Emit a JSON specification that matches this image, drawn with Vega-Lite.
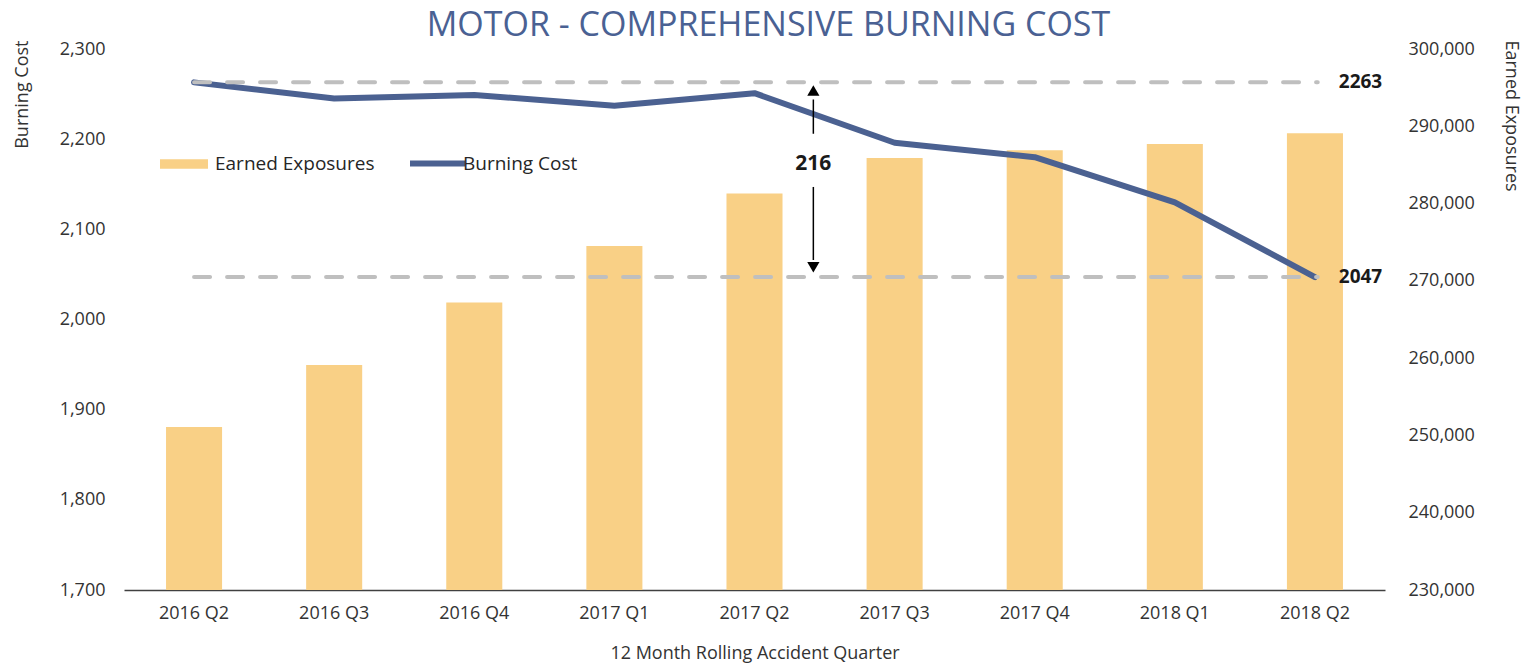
{
  "$schema": "https://vega.github.io/schema/vega-lite/v6.json",
  "width": 1261,
  "height": 541,
  "autosize": {"type": "none"},
  "padding": {"left": 124, "top": 49, "right": 141, "bottom": 79},
  "background": "white",
  "title": {"text": "MOTOR - COMPREHENSIVE BURNING COST", "font": "Open Sans", "fontSize": 34, "fontWeight": "normal", "color": "#4A6193", "anchor": "middle", "dx": 14, "offset": -3},
  "config": {
    "view": {"stroke": null},
    "font": "Open Sans",
    "axis": {"grid": false, "ticks": false, "domain": false, "labelFont": "Open Sans", "labelFontSize": 18, "labelColor": "#333333", "titleFont": "Open Sans", "titleFontSize": 18, "titleFontWeight": "normal", "titleColor": "#333333"},
    "legend": {"labelFont": "Open Sans", "labelFontSize": 19, "labelColor": "#262626", "padding": 0}
  },
  "datasets": {
    "main": [
      {"quarter": "2016 Q2", "burning_cost": 2263, "exposures": 251100},
      {"quarter": "2016 Q3", "burning_cost": 2245, "exposures": 259100},
      {"quarter": "2016 Q4", "burning_cost": 2249, "exposures": 267200},
      {"quarter": "2017 Q1", "burning_cost": 2237, "exposures": 274500},
      {"quarter": "2017 Q2", "burning_cost": 2251, "exposures": 281300},
      {"quarter": "2017 Q3", "burning_cost": 2196, "exposures": 285900},
      {"quarter": "2017 Q4", "burning_cost": 2180, "exposures": 286900},
      {"quarter": "2018 Q1", "burning_cost": 2130, "exposures": 287700},
      {"quarter": "2018 Q2", "burning_cost": 2047, "exposures": 289100}
    ],
    "refs": [
      {"value": 2263, "label": "2263"},
      {"value": 2047, "label": "2047"}
    ]
  },
  "layer": [
    {
      "data": {"name": "main"},
      "mark": {"type": "bar", "clip": true},
      "encoding": {
        "x": {"field": "quarter", "type": "nominal", "sort": null,
              "scale": {"paddingInner": 0.6, "paddingOuter": 0.3},
              "axis": {"orient": "bottom", "title": "12 Month Rolling Accident Quarter", "labelAngle": 0, "labelPadding": 14, "titlePadding": 22, "domain": true, "domainColor": "#404040", "domainWidth": 1.5}},
        "y": {"field": "exposures", "type": "quantitative",
              "scale": {"domain": [230000, 300000], "nice": false, "zero": false},
              "axis": {"orient": "right", "title": "Earned Exposures", "format": ",.0f", "values": [230000, 240000, 250000, 260000, 270000, 280000, 290000, 300000], "labelPadding": 23, "titleAngle": 90, "titleAlign": "left", "titleBaseline": "middle", "titleX": 125, "titleY": -9}},
        "fill": {"datum": "Earned Exposures", "type": "nominal",
                 "scale": {"range": ["#F9D086"]},
                 "legend": {"orient": "none", "legendX": 36, "legendY": 91, "title": null, "symbolType": "M-1,-0.2H1V0.2H-1Z", "symbolSize": 2304, "symbolStrokeWidth": 0, "labelOffset": 7}}
      }
    },
    {
      "data": {"name": "main"},
      "mark": {"type": "line", "strokeWidth": 6, "strokeCap": "round", "strokeJoin": "round"},
      "encoding": {
        "x": {"field": "quarter", "type": "nominal", "sort": null,
              "scale": {"paddingInner": 0.6, "paddingOuter": 0.3}, "axis": null},
        "y": {"field": "burning_cost", "type": "quantitative",
              "scale": {"domain": [1700, 2300], "nice": false, "zero": false},
              "axis": {"orient": "left", "title": "Burning Cost", "format": ",.0f", "values": [1700, 1800, 1900, 2000, 2100, 2200, 2300], "labelPadding": 19, "titleAngle": -90, "titleAlign": "right", "titleBaseline": "middle", "titleX": -102, "titleY": -9}},
        "stroke": {"datum": "Burning Cost", "type": "nominal",
                   "scale": {"range": ["#4B6191"]},
                   "legend": {"orient": "none", "legendX": 283, "legendY": 84, "title": null, "symbolType": "stroke", "symbolSize": 3025, "symbolStrokeWidth": 6, "labelOffset": -5}}
      }
    },
    {
      "data": {"name": "refs"},
      "mark": {"type": "rule", "color": "#BFBFBF", "strokeWidth": 4, "strokeDash": [16, 17], "strokeCap": "round"},
      "encoding": {
        "x": {"datum": 0.5, "type": "quantitative", "scale": {"domain": [0, 9], "nice": false, "zero": false}, "axis": null},
        "x2": {"datum": 8.52},
        "y": {"field": "value", "type": "quantitative", "scale": {"domain": [1700, 2300], "nice": false, "zero": false}, "axis": null}
      }
    },
    {
      "data": {"name": "refs"},
      "mark": {"type": "text", "align": "left", "baseline": "middle", "fontSize": 19, "fontWeight": "bold", "color": "#1a1a1a", "font": "Open Sans"},
      "encoding": {
        "x": {"datum": 8.67, "type": "quantitative", "scale": {"domain": [0, 9], "nice": false, "zero": false}, "axis": null},
        "y": {"field": "value", "type": "quantitative", "scale": {"domain": [1700, 2300], "nice": false, "zero": false}, "axis": null},
        "text": {"field": "label"}
      }
    },
    {
      "data": {"values": [{"top": 2244, "bottom": 2206}, {"top": 2147, "bottom": 2066}]},
      "mark": {"type": "rule", "color": "#000000", "strokeWidth": 1.5},
      "encoding": {
        "x": {"datum": 4.92, "type": "quantitative", "scale": {"domain": [0, 9], "nice": false, "zero": false}, "axis": null},
        "y": {"field": "top", "type": "quantitative", "scale": {"domain": [1700, 2300], "nice": false, "zero": false}, "axis": null},
        "y2": {"field": "bottom"}
      }
    },
    {
      "data": {"values": [{"value": 2254, "shape": "triangle-up"}, {"value": 2058, "shape": "triangle-down"}]},
      "mark": {"type": "point", "filled": true, "color": "#000000", "opacity": 1, "size": 150},
      "encoding": {
        "x": {"datum": 4.92, "type": "quantitative", "scale": {"domain": [0, 9], "nice": false, "zero": false}, "axis": null},
        "y": {"field": "value", "type": "quantitative", "scale": {"domain": [1700, 2300], "nice": false, "zero": false}, "axis": null},
        "shape": {"field": "shape", "type": "nominal", "scale": null}
      }
    },
    {
      "data": {"values": [{"label": "216", "value": 2173}]},
      "mark": {"type": "text", "align": "center", "baseline": "middle", "fontSize": 21, "fontWeight": "bold", "color": "#1a1a1a", "font": "Open Sans"},
      "encoding": {
        "x": {"datum": 4.92, "type": "quantitative", "scale": {"domain": [0, 9], "nice": false, "zero": false}, "axis": null},
        "y": {"field": "value", "type": "quantitative", "scale": {"domain": [1700, 2300], "nice": false, "zero": false}, "axis": null},
        "text": {"field": "label"}
      }
    }
  ],
  "resolve": {"scale": {"x": "independent", "y": "independent", "fill": "independent", "stroke": "independent", "shape": "independent"}}
}
